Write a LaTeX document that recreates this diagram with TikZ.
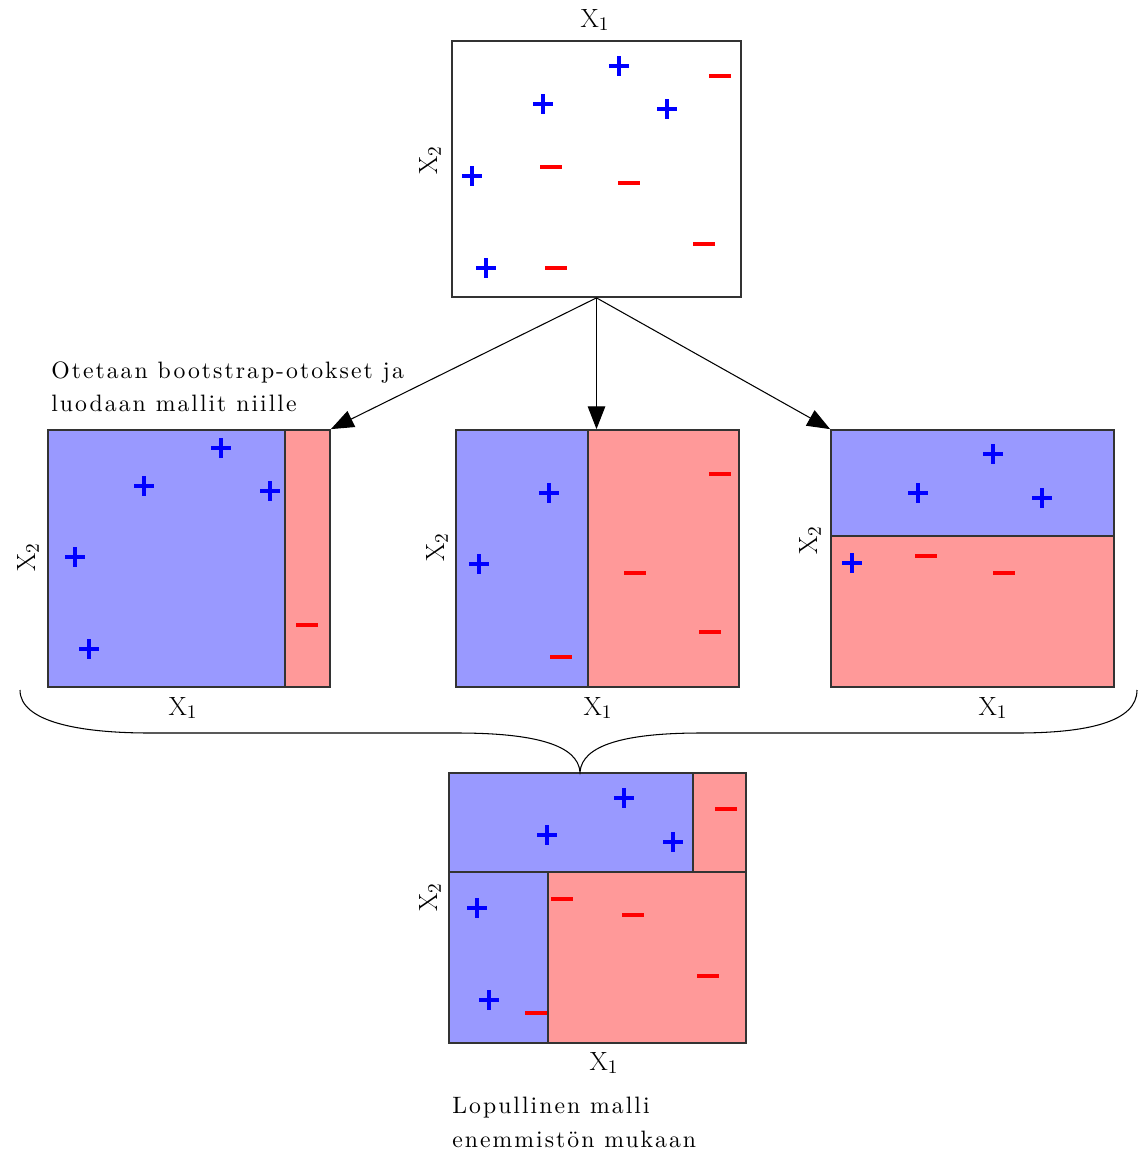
\documentclass[tikz,border=0pt]{standalone}
\usepackage{fontspec}
\newfontfamily\notefont[LetterSpace=8.5]{lmroman10-regular.otf}
\usetikzlibrary{arrows.meta,fit}
\definecolor{regblue}{RGB}{153,153,255}
\definecolor{regred}{RGB}{255,153,153}
\tikzset{
  box/.style={draw=black!80,line width=1pt,inner sep=0pt},
  split/.style={draw=black!80,line width=1pt},
  pl/.pic={\draw[blue,line width=1.8pt] (-10,0)--(10,0) (0,-10)--(0,10);},
  mi/.pic={\draw[red,line width=1.8pt] (-11,0)--(11,0);},
  axlab/.style={font=\fontsize{15}{16}\selectfont,inner sep=0pt},
  note/.style={font=\notefont\fontsize{13.5}{19}\selectfont,align=left,inner sep=0pt,anchor=north west},
  conn/.style={line width=0.6pt,-{Triangle[length=13pt,width=10pt]}},
  brace/.style={line width=0.6pt}
}
\begin{document}
\begin{tikzpicture}[x=0.02cm,y=-0.02cm]
\path[use as bounding box,fill=white] (0,0) rectangle (1139,1153);
% ---------- top box ----------
\node[box,fit={(452,41) (741,297)}] (top) {};
\node[axlab] (tx1) at (595,20) {$\mathrm{X}_1$};
\node[axlab,rotate=90] (tx2) at (430,160) {$\mathrm{X}_2$};
\path (619,66) pic{pl} (543,104) pic{pl} (667,109) pic{pl} (472,176) pic{pl} (486,268) pic{pl}
      (720,76) pic{mi} (551,167) pic{mi} (629,183) pic{mi} (704,244) pic{mi} (556,268) pic{mi};
% ---------- left box ----------
\fill[regblue] (48,430) rectangle (285,687);
\fill[regred] (285,430) rectangle (330,687);
\draw[split] (285,430) -- (285,687);
\node[box,fit={(48,430) (330,687)}] (lb) {};
\node[axlab] (lx1) at (183,708) {$\mathrm{X}_1$};
\node[axlab,rotate=90] (lx2) at (28,557) {$\mathrm{X}_2$};
\path (221,448) pic{pl} (144,486) pic{pl} (270,491) pic{pl} (75,557) pic{pl} (89,649) pic{pl}
      (307,625) pic{mi};
\node[note] (n1) at (51,361) {Otetaan bootstrap-otokset ja\\luodaan mallit niille};
% ---------- middle box ----------
\fill[regblue] (456,430) rectangle (588,687);
\fill[regred] (588,430) rectangle (739,687);
\draw[split] (588,430) -- (588,687);
\node[box,fit={(456,430) (739,687)}] (mb) {};
\node[axlab] (mx1) at (598,708) {$\mathrm{X}_1$};
\node[axlab,rotate=90] (mx2) at (437,547) {$\mathrm{X}_2$};
\path (549,493) pic{pl} (479,564) pic{pl}
      (720,474) pic{mi} (635,573) pic{mi} (710,632) pic{mi} (561,657) pic{mi};
% ---------- right box ----------
\fill[regblue] (831,430) rectangle (1114,536);
\fill[regred] (831,536) rectangle (1114,687);
\draw[split] (831,536) -- (1114,536);
\node[box,fit={(831,430) (1114,687)}] (rb) {};
\node[axlab] (rx1) at (993,708) {$\mathrm{X}_1$};
\node[axlab,rotate=90] (rx2) at (810,540) {$\mathrm{X}_2$};
\path (993,454) pic{pl} (918,493) pic{pl} (1042,498) pic{pl} (852,563) pic{pl}
      (926,556) pic{mi} (1004,573) pic{mi};
% ---------- bottom box ----------
\fill[regblue] (449,773) rectangle (693,872);
\fill[regred] (693,773) rectangle (746,872);
\fill[regblue] (449,872) rectangle (548,1043);
\fill[regred] (548,872) rectangle (746,1043);
\draw[split] (449,872) -- (746,872) (693,773) -- (693,872) (548,872) -- (548,1043);
\node[box,fit={(449,773) (746,1043)}] (bb) {};
\node[axlab] (bx1) at (604,1063) {$\mathrm{X}_1$};
\node[axlab,rotate=90] (bx2) at (430,897) {$\mathrm{X}_2$};
\path (624,798) pic{pl} (547,835) pic{pl} (673,842) pic{pl} (477,908) pic{pl} (489,1000) pic{pl}
      (726,809) pic{mi} (562,899) pic{mi} (633,915) pic{mi} (708,976) pic{mi} (536,1013) pic{mi};
\node[note] (n2) at (452,1097) {Lopullinen malli\\enemmistön mukaan};
% ---------- connectors ----------
\draw[conn] (top.south) -- (lb.north east);
\draw[conn] (top.south) -- (mb.north -| top.south);
\draw[conn] (top.south) -- (rb.north west);
% ---------- brace ----------
\coordinate (bl) at (20,690);
\coordinate (br) at (1137,690);
\draw[brace] (bl) .. controls (20,722) and (80,733) .. (150,733) -- (457,733)
  .. controls (535,733) and (578,745) .. (bb.north -| 580,0)
  .. controls (582,745) and (625,733) .. (701,733) -- (1017,733)
  .. controls (1087,733) and (1137,722) .. (br);
\end{tikzpicture}
\end{document}
